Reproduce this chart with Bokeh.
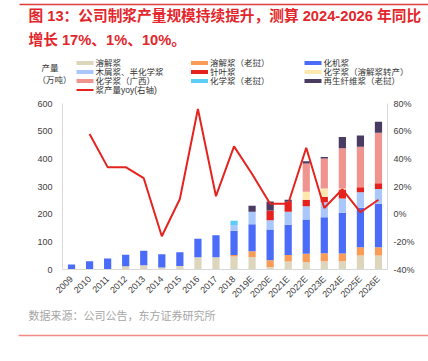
import math
from bokeh.plotting import figure
from bokeh.layouts import column
from bokeh.models import (FactorRange, Range1d, LinearAxis, FixedTicker,
                          PrintfTickFormatter, ColumnDataSource, Plot)
from bokeh.core.properties import value
from bokeh.embed import file_html
from bokeh.resources import INLINE

# ---------------- data ----------------
cats = ["2009", "2010", "2011", "2012", "2013", "2014", "2015", "2016", "2017", "2018",
        "2019E", "2020E", "2021E", "2022E", "2023E", "2024E", "2025E", "2026E"]

dissolving       = [0, 0, 0, 12, 15, 7, 13, 44, 44, 47, 45, 9, 29, 27, 30, 30, 51, 51]
dissolving_laos  = [0, 0, 0, 0, 0, 0, 0, 0, 0, 5, 21, 24, 23, 30, 29, 28, 29, 29]
cmp_pulp         = [18, 30, 40, 41, 53, 48, 49, 67, 80, 88, 98, 112, 110, 124, 130, 147, 143, 158]
sawdust_semichem = [0, 0, 0, 0, 0, 0, 0, 0, 0, 21, 45, 33, 47, 48, 54, 52, 56, 53]
chem_laos        = [0, 0, 0, 0, 0, 0, 0, 0, 0, 15, 0, 0, 0, 0, 0, 0, 0, 0]
softwood         = [0, 0, 0, 0, 0, 0, 0, 0, 0, 0, 0, 35, 36, 23, 19, 32, 18, 21]
chem_converted   = [0, 0, 0, 0, 0, 0, 0, 0, 0, 0, 0, 0, 0, 29, 31, 4, 0, 0]
chem_guangxi     = [0, 0, 0, 0, 0, 0, 0, 0, 0, 0, 0, 0, 0, 102, 108, 145, 147, 182]
recycled_laos    = [0, 0, 0, 0, 0, 0, 0, 0, 0, 0, 21, 33, 7, 8, 6, 41, 40, 40]

yoy_cats = cats[1:]
yoy = [58, 34, 34, 26, -16, 11, 76, 13, 49, 29, 7.5, 7.5, 48, 4.5, 18, 1.4, 10.4]

series_names = ["溶解浆", "溶解浆（老挝）", "化机浆", "木屑浆、半化学浆", "化学浆（老挝）",
                "针叶浆", "化学浆（溶解浆转产）", "化学浆（广西）", "再生纤维浆（老挝）"]
series_values = [dissolving, dissolving_laos, cmp_pulp, sawdust_semichem, chem_laos,
                 softwood, chem_converted, chem_guangxi, recycled_laos]
series_colors = ["#ded5bd", "#f99c58", "#4b6cf8", "#a9c7fb", "#5ccdf4",
                 "#e6211d", "#fde8ae", "#f09490", "#4a3b62"]
legend_order = [0, 1, 2, 3, 5, 6, 7, 4, 8]
line_name = "浆产量yoy(右轴)"
line_color = "#e5231f"

left_ticks = [0, 100, 200, 300, 400, 500, 600]
right_ticks = [-40, -20, 0, 20, 40, 60, 80]

title_1 = "图 13：公司制浆产量规模持续提升，测算 2024-2026 年同比"
title_2 = "增长 17%、1%、10%。"
unit_1 = "产量"
unit_2 = "（万吨）"
source_text = "数据来源：公司公告，东方证券研究所"

CJK = "Noto Sans CJK SC"
MIX = "Liberation Sans, Noto Sans CJK SC"
W = 428
FA = {"frame_align": False} if "frame_align" in Plot.properties() else {}


def blank(height, y0, y1):
    f = figure(width=W, height=height, x_range=Range1d(0, W), y_range=Range1d(y1, y0),
               output_backend="svg", toolbar_location=None,
               x_axis_location=None, y_axis_location=None,
               min_border=0, min_border_left=0, min_border_right=0,
               min_border_top=0, min_border_bottom=0, **FA)
    f.outline_line_color = None
    f.xgrid.grid_line_color = None
    f.ygrid.grid_line_color = None
    f.background_fill_color = "white"
    f.border_fill_color = "white"
    return f


# ---------------- header (title + legend) ----------------
top = blank(95, 0, 95)
top.quad(left=[19], right=[W], top=[3.3], bottom=[4.8], color="#e23b3b", line_color=None)
title_col = "#e3262c"
top.text(x=[28, 28], y=[15, 39], text=[title_1, title_2],
         text_font=value(MIX), text_font_size="14.7px", text_font_style="bold",
         text_color=title_col, text_baseline="middle", text_align="left")

leg_col = "#333333"
top.text(x=[41, 37], y=[66, 78.5], text=[unit_1, unit_2],
         text_font=value(CJK), text_font_size="8.5px",
         text_color=leg_col, text_baseline="middle", text_align="left")
col_x = [76, 190.5, 304]
row_y = [62.5, 71.5, 80.5, 89.5]
lx, ly, lt, ql, qr, qt, qb, qc = [], [], [], [], [], [], [], []
for i, j in enumerate(legend_order):
    cx = col_x[i % 3]
    ry = row_y[i // 3]
    ql.append(cx); qr.append(cx + 17); qt.append(ry - 2); qb.append(ry + 2)
    qc.append(series_colors[j])
    lx.append(cx + 19); ly.append(ry); lt.append(series_names[j])
ql.append(col_x[0]); qr.append(col_x[0] + 17); qt.append(row_y[3] - 1); qb.append(row_y[3] + 1)
qc.append(line_color)
lx.append(col_x[0] + 19); ly.append(row_y[3]); lt.append(line_name)
top.quad(left=ql, right=qr, top=qt, bottom=qb, color=qc, line_color=None)
top.text(x=lx, y=ly, text=lt, text_font=value(MIX), text_font_size="8.5px",
         text_color=leg_col, text_baseline="middle", text_align="left")

# ---------------- main chart ----------------
p = figure(width=W, height=210,
           x_range=FactorRange(factors=cats, range_padding=0),
           y_range=Range1d(0, 600),
           output_backend="svg", toolbar_location=None,
           min_border_left=62, min_border_right=41,
           min_border_top=8, min_border_bottom=34, **FA)
p.outline_line_color = None
p.xgrid.grid_line_color = None
p.ygrid.grid_line_color = None
p.background_fill_color = "white"
p.border_fill_color = "white"

keys = ["s%d" % i for i in range(len(series_names))]
data = {"cat": cats}
for k, v in zip(keys, series_values):
    data[k] = v
src = ColumnDataSource(data)
p.vbar_stack(keys, x="cat", width=0.4, color=series_colors, line_color=None, source=src)

p.extra_y_ranges = {"pct": Range1d(-40, 80)}
p.line(x=yoy_cats, y=yoy, y_range_name="pct", line_color=line_color, line_width=2)

axis_col = "#d9d9d9"
lab_col = "#404040"
tick_font = "Liberation Sans"

ya = p.yaxis[0]
ya.ticker = FixedTicker(ticks=left_ticks)
ya.axis_line_color = axis_col
ya.major_tick_line_color = None
ya.minor_tick_line_color = None
ya.major_tick_in = 0
ya.major_tick_out = 4
ya.major_label_standoff = 6
ya.major_label_text_font = tick_font
ya.major_label_text_font_size = "9px"
ya.major_label_text_color = lab_col

ra = LinearAxis(y_range_name="pct", ticker=FixedTicker(ticks=right_ticks),
                formatter=PrintfTickFormatter(format="%d%%"))
ra.axis_line_color = axis_col
ra.major_tick_line_color = None
ra.minor_tick_line_color = None
ra.major_tick_in = 0
ra.major_tick_out = 2
ra.major_label_standoff = 4
ra.major_label_text_font = tick_font
ra.major_label_text_font_size = "9px"
ra.major_label_text_color = lab_col
p.add_layout(ra, "right")

xa = p.xaxis[0]
xa.axis_line_color = axis_col
xa.major_tick_line_color = None
xa.major_tick_in = 0
xa.major_tick_out = 3
xa.major_label_standoff = 5
xa.major_label_orientation = math.pi / 4
xa.major_label_text_font = tick_font
xa.major_label_text_font_size = "9px"
xa.major_label_text_color = lab_col

# ---------------- footer ----------------
bot = blank(56, 305, 361)
bot.text(x=[28], y=[314], text=[source_text], text_font=value(CJK), text_font_size="11px",
         text_color="#a6a6a6", text_baseline="middle", text_align="left")
bot.quad(left=[18], right=[W], top=[334.3], bottom=[335.8], color="#f08a84", line_color=None)

layout = column(top, p, bot, spacing=0)
open("out.html", "w").write(file_html(layout, INLINE))
